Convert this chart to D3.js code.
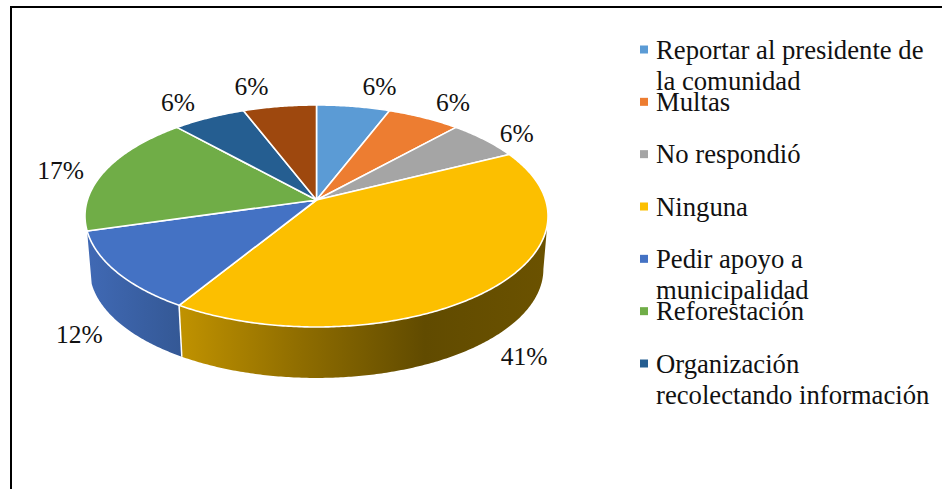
<!DOCTYPE html>
<html>
<head>
<meta charset="utf-8">
<script src="https://cdn.jsdelivr.net/npm/d3@7"></script>
<style>
  html, body { margin: 0; padding: 0; background: #fff; overflow: hidden; }
  text { font-family: "Liberation Serif", serif; fill: #111; }
</style>
</head>
<body>
<script>
var fullWidth = 942;
var fullHeight = 489;

// one row per slice, clockwise from 12 o'clock
// slice widths fit answer counts out of 17, the printed labels are kept as they are
var sliceCounts = [1, 1, 1, 7, 2, 3, 1, 1];
var sliceLabels = ["6%", "6%", "6%", "41%", "12%", "17%", "6%", "6%"];
var sliceColors = ["#5b9bd5", "#ed7d31", "#a5a5a5", "#fcbf00", "#4472c4", "#70ad47", "#255e91", "#9e480e"];

// the last slice has no entry in the legend of the original
var legendLines = [
    ["Reportar al presidente de", "la comunidad"],
    ["Multas"],
    ["No respondió"],
    ["Ninguna"],
    ["Pedir apoyo a", "municipalidad"],
    ["Reforestación"],
    ["Organización", "recolectando información"]
];

// label nudges from the rim of each slice
var labelOffsets = [[26, -20], [29, -16], [32, -7], [35, 66], [-37, 62], [-44, -1], [-31, -16], [-28, -20]];

// pie geometry: a tilted disc seen in perspective, so the apex sits above the ellipse centre
var cx = 316.5, cy = 200;
var tilt = 0.144, radiusX = 229.1, radiusY = 108.7;
var wallDepth = 53.5, wallShrink = 0.98;

function rim(theta, drop, scale) {
    var w = 1 + tilt * Math.cos(theta);
    return [cx + scale * radiusX * Math.sin(theta) / w,
            cy + drop - scale * radiusY * Math.cos(theta) / w];
}

function rimPoints(a0, a1, drop, scale) {
    var n = Math.max(2, Math.ceil(Math.abs(a1 - a0) / 0.01));
    return d3.range(n + 1).map(function(i) {
        return rim(a0 + (a1 - a0) * i / n, drop, scale);
    });
}

var line = d3.line();

var svg = d3.select("body")
            .append("svg")
            .attr("width", fullWidth)
            .attr("height", fullHeight)
            .style("display", "block");

// frame, open at the right and bottom edges
svg.append("path")
   .attr("d", "M11," + fullHeight + "V7H" + fullWidth)
   .attr("fill", "none")
   .attr("stroke", "#000")
   .attr("stroke-width", 2);

var pie = d3.pie().sort(null).value(function(d) { return d; });
var arcs = pie(sliceCounts);

// wall shading, fades to the dark colour towards the right
var defs = svg.append("defs");
var wallShades = {
    3: [[180, "#c09200"], [300, "#8f6d00"], [425, "#614b00"], [548, "#6b5200"]],
    4: [[88, "#4069b4"], [182, "#345895"]]
};
Object.keys(wallShades).forEach(function(key) {
    var stops = wallShades[key];
    var grad = defs.append("linearGradient")
                   .attr("id", "wall" + key)
                   .attr("gradientUnits", "userSpaceOnUse")
                   .attr("x1", stops[0][0]).attr("x2", stops[stops.length - 1][0])
                   .attr("y1", 0).attr("y2", 0);
    stops.forEach(function(s) {
        grad.append("stop")
            .attr("offset", (s[0] - stops[0][0]) / (stops[stops.length - 1][0] - stops[0][0]))
            .attr("stop-color", s[1]);
    });
});

// the wall is only visible between the two silhouette points of the rim
var sideAngle = Math.acos(-tilt);
var wallStart = sideAngle, wallEnd = 2 * Math.PI - sideAngle;

var walls = arcs.filter(function(d) {
    return d.endAngle > wallStart && d.startAngle < wallEnd && wallShades[d.index];
});

svg.selectAll(".wall")
   .data(walls)
   .enter()
   .append("path")
   .attr("class", "wall")
   .attr("fill", function(d) { return "url(#wall" + d.index + ")"; })
   .attr("d", function(d) {
       var a0 = Math.max(d.startAngle, wallStart);
       var a1 = Math.min(d.endAngle, wallEnd);
       var top = rimPoints(a0, a1, 0, 1);
       var bottom = rimPoints(a1, a0, wallDepth, wallShrink);
       return line(top.concat(bottom)) + "Z";
   });

// white seam between the two walls
var seam = arcs[3].endAngle;
svg.append("path")
   .attr("d", line([rim(seam, 0, 1), rim(seam, wallDepth, wallShrink)]))
   .attr("stroke", "#fff")
   .attr("stroke-width", 1.5);

// top faces
svg.selectAll(".slice")
   .data(arcs)
   .enter()
   .append("path")
   .attr("class", "slice")
   .attr("fill", function(d, i) { return sliceColors[i]; })
   .attr("stroke", "#fff")
   .attr("stroke-width", 1.6)
   .attr("stroke-linejoin", "round")
   .attr("d", function(d) {
       return line([[cx, cy]].concat(rimPoints(d.startAngle, d.endAngle, 0, 1))) + "Z";
   });

// value labels
svg.selectAll(".value")
   .data(arcs)
   .enter()
   .append("text")
   .attr("class", "value")
   .attr("text-anchor", "middle")
   .attr("font-size", 25.5)
   .attr("x", function(d, i) { return rim((d.startAngle + d.endAngle) / 2, 0, 1)[0] + labelOffsets[i][0]; })
   .attr("y", function(d, i) { return rim((d.startAngle + d.endAngle) / 2, 0, 1)[1] + labelOffsets[i][1] + 9; })
   .text(function(d, i) { return sliceLabels[i]; });

// legend
var legendY = d3.scalePoint()
                .domain(d3.range(legendLines.length))
                .range([58.5, 372.5]);

var legend = svg.selectAll(".legend")
                .data(legendLines)
                .enter()
                .append("g")
                .attr("class", "legend")
                .attr("transform", function(d, i) { return "translate(640," + legendY(i) + ")"; });

legend.append("rect")
      .attr("y", -13)
      .attr("width", 8)
      .attr("height", 8)
      .attr("fill", function(d, i) { return sliceColors[i]; });

legend.each(function(lines) {
    d3.select(this).selectAll("text")
      .data(lines)
      .enter()
      .append("text")
      .attr("x", 16)
      .attr("y", function(d, i) { return i * 31; })
      .attr("font-size", 26.7)
      .text(function(d) { return d; });
});
</script>
</body>
</html>
